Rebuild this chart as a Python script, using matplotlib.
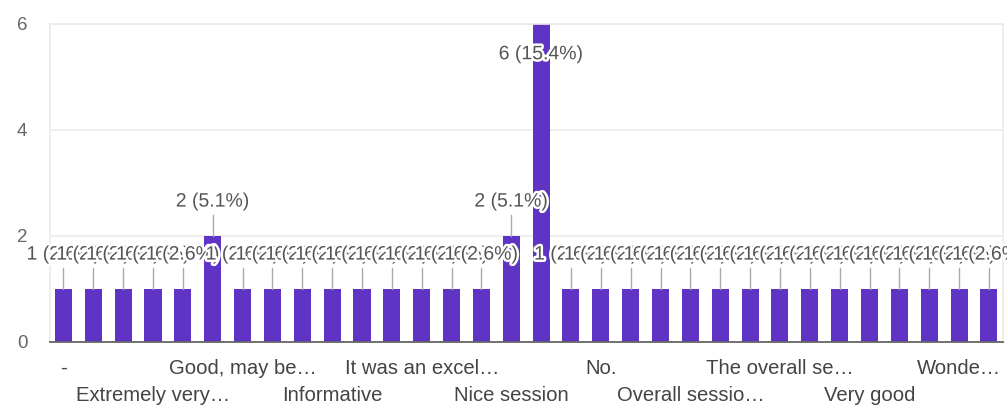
import matplotlib
matplotlib.use("Agg")
import matplotlib.pyplot as plt
import matplotlib.patheffects as pe

# ---- data ----
counts = [1, 1, 1, 1, 1, 2, 1, 1, 1, 1, 1, 1, 1, 1, 1, 2,
          6, 1, 1, 1, 1, 1, 1, 1, 1, 1, 1, 1, 1, 1, 1, 1]
total = 39
row1_idx = [0, 6, 12, 18, 24, 30]
row1_labels = ["-", "Good, may be…", "It was an excel…", "No.",
               "The overall se…", "Wonde…"]
row2_idx = [3, 9, 15, 21, 27]
row2_labels = ["Extremely very…", "Informative", "Nice session",
               "Overall sessio…", "Very good"]
yticks = [0, 2, 4, 6]

BAR = "#5f33c4"
TXT = "#444444"
GRID = "#ebebeb"
FONT = "Liberation Sans"
FS = 14

fig = plt.figure(figsize=(10.07, 4.05), dpi=100)
ax = fig.add_axes([50 / 1007, 63 / 405, 953 / 1007, 318 / 405])

x = list(range(len(counts)))
ax.bar(x, counts, width=0.57, color=BAR, zorder=2)

ax.set_xlim(-0.45, len(counts) - 1 + 0.47)
ax.set_ylim(0, 6)

# grid
ax.set_yticks(yticks)
ax.set_yticklabels([str(v) for v in yticks], fontsize=FS - 0.5,
                   color="#666666", family=FONT)
ax.tick_params(axis="y", length=0, pad=20)
for lbl in ax.get_yticklabels():
    lbl.set_horizontalalignment("center")
ax.yaxis.grid(True, color=GRID, linewidth=1.2, zorder=0)
ax.set_axisbelow(True)

for s in ["top", "right", "left"]:
    ax.spines[s].set_color(GRID)
    ax.spines[s].set_linewidth(1.2)
ax.spines["bottom"].set_color("#666666")
ax.spines["bottom"].set_linewidth(1.3)
ax.spines["bottom"].set_zorder(3)

# x tick labels in two rows
ax.set_xticks(row1_idx)
ax.set_xticklabels(row1_labels, fontsize=FS + 0.6, color=TXT, family=FONT)
ax.set_xticks(row2_idx, minor=True)
ax.set_xticklabels(row2_labels, minor=True, fontsize=FS + 0.6, color=TXT,
                   family=FONT)
ax.tick_params(axis="x", which="major", length=0, pad=12)
ax.tick_params(axis="x", which="minor", length=0, pad=32)

# data labels with leader lines
halo = [pe.withStroke(linewidth=3.5, foreground="white")]
for i, c in enumerate(counts):
    pct = 100.0 * c / total
    text = f"{c} ({pct:.1f}%)"
    if c >= 6:
        ty = c - 0.58
    else:
        ty = c + 0.64
        ax.plot([i, i], [c, c + 0.4], color="#aaaaaa", linewidth=1,
                zorder=3)
    ax.text(i, ty, text, ha="center", va="center", fontsize=FS,
            color="#555555", family=FONT, path_effects=halo,
            zorder=4 + i * 0.01, clip_on=False)

fig.savefig("out.png", dpi=100)
